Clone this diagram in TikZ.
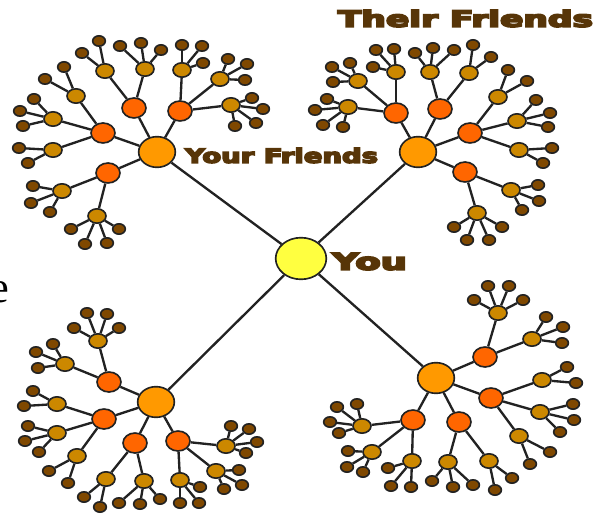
\documentclass[tikz,border=0pt]{standalone}
\usepackage{fontspec}
\usepackage{graphicx}
\usetikzlibrary{shapes.geometric}
\newfontfamily\heavyfont[FakeBold=7]{DejaVu Sans Bold}
\newfontfamily\slidefont{Liberation Serif}
\definecolor{youyellow}{HTML}{FFFF40}
\definecolor{huborange}{HTML}{FF9900}
\definecolor{friendred}{HTML}{FF6600}
\definecolor{fofgold}{HTML}{CC8800}
\definecolor{leafbrown}{HTML}{7F4800}
\definecolor{outline}{HTML}{222222}
\definecolor{tagbrown}{HTML}{573508}

\begin{document}
\begin{tikzpicture}[x=0.03cm, y=-0.03cm,
  ball/.style={ellipse, draw=outline, line width=1.4pt, inner sep=0pt},
  youball/.style={ball, fill=youyellow, minimum width=1.52cm, minimum height=1.25cm},
  hubball/.style={ball, fill=huborange, minimum width=1.1cm, minimum height=0.92cm},
  friendball/.style={ball, fill=friendred, minimum width=0.72cm, minimum height=0.6cm},
  fofball/.style={ball, fill=fofgold, minimum width=0.54cm, minimum height=0.43cm},
  leafball/.style={ball, fill=leafbrown, minimum width=0.38cm, minimum height=0.31cm},
  link/.style={draw=outline, line width=2pt},
  tag/.style={text=tagbrown, inner sep=0pt}]
\useasboundingbox (0,0) rectangle (595,514);

\node (slidee) [anchor=base east, inner sep=0pt] at (9,302) {\slidefont\fontsize{38}{40}\selectfont e};

\node (you) [youball] at (301,258.5) {};
\node (tl) [hubball] at (157,152) {};
\node (tr) [hubball] at (418,152) {};
\node (bl) [hubball] at (156,402) {};
\node (br) [hubball] at (436,378) {};
\draw[link] (you) -- (tl);
\draw[link] (you) -- (tr);
\draw[link] (you) -- (bl);
\draw[link] (you) -- (br);

\foreach \n/\p/\x/\y in {
  tl1/tl/103/133, tl2/tl/134/108, tl3/tl/180/111, tl4/tl/108/173,
  tr1/tr/396/113, tr2/tr/440/109, tr3/tr/470/133, tr4/tr/465/172,
  bl1/bl/109/382, bl2/bl/104/419, bl3/bl/135/443, bl4/bl/178/441,
  br1/br/485/357, br2/br/491/398, br3/br/413/420, br4/br/459/422} {
  \node (\n) [friendball] at (\x,\y) {};
  \draw[link] (\p) -- (\n);
}

\foreach \n/\p/\x/\y in {
  tl1a/tl1/76/96, tl1b/tl1/53/119, tl1c/tl1/53/150, tl2a/tl2/105/71, tl2b/tl2/145/69,
  tl3a/tl3/182/70, tl3b/tl3/220/79, tl3c/tl3/231/105, tl4a/tl4/62/191, tl4b/tl4/97/216,
  tr1a/tr1/358/81, tr1b/tr1/348/107, tr1c/tr1/396/72, tr2a/tr2/430/72, tr2b/tr2/469/73,
  tr3a/tr3/498/97, tr3b/tr3/517/121, tr3c/tr3/519/150, tr4a/tr4/511/190, tr4b/tr4/477/213,
  bl1a/bl1/98/341, bl1b/bl1/65/364, bl2a/bl2/57/404, bl2b/bl2/57/433, bl2c/bl2/77/456,
  bl3a/bl3/106/479, bl3b/bl3/144/481, bl4a/bl4/180/480, bl4b/bl4/216/471, bl4c/bl4/226/446,
  br1a/br1/498/313, br1b/br1/532/339, br2a/br2/542/380, br2b/br2/540/412, br2c/br2/519/436,
  br3a/br3/362/426, br3b/br3/372/452, br3c/br3/412/461, br4a/br4/448/462, br4b/br4/489/461} {
  \node (\n) [fofball] at (\x,\y) {};
  \draw[link] (\p) -- (\n);
}

\foreach \n/\p/\x/\y in {
  tl1a1/tl1a/45/79, tl1a2/tl1a/64/67,
  tl1b1/tl1b/34/99, tl1b2/tl1b/20/111, tl1b3/tl1b/23/126,
  tl1c1/tl1c/19/148, tl1c2/tl1c/28/163,
  tl2a1/tl2a/82/53, tl2a2/tl2a/99/41,
  tl2b1/tl2b/120/46, tl2b2/tl2b/141/43, tl2b3/tl2b/161/50,
  tl3a1/tl3a/182/45, tl3a2/tl3a/202/46, tl3a3/tl3a/203/63,
  tl3b1/tl3b/228/59, tl3b2/tl3b/247/64, tl3b3/tl3b/245/80,
  tl3c1/tl3c/252/98, tl3c2/tl3c/263/109, tl3c3/tl3c/256/123, tl3c4/tl3c/235/126,
  tl4a1/tl4a/33/186, tl4a2/tl4a/31/203, tl4a3/tl4a/50/212,
  tl4b1/tl4b/71/229, tl4b2/tl4b/85/244, tl4b3/tl4b/107/243, tl4b4/tl4b/119/229,
  tr1a1/tr1a/332/67, tr1a2/tr1a/350/63, tr1a3/tr1a/333/82,
  tr1b1/tr1b/327/99, tr1b2/tr1b/315/110, tr1b3/tr1b/323/125, tr1b4/tr1b/343/127,
  tr1c1/tr1c/376/50, tr1c2/tr1c/394/49, tr1c3/tr1c/373/67,
  tr2a1/tr2a/415/53, tr2a2/tr2a/433/48, tr2a3/tr2a/454/50,
  tr2b1/tr2b/473/45, tr2b2/tr2b/491/57,
  tr3a1/tr3a/508/70, tr3a2/tr3a/527/81,
  tr3b1/tr3b/536/100, tr3b2/tr3b/550/113, tr3b3/tr3b/548/127,
  tr3c1/tr3c/552/148, tr3c2/tr3c/543/163,
  tr4a1/tr4a/538/185, tr4a2/tr4a/539/201, tr4a3/tr4a/522/210,
  tr4b1/tr4b/454/227, tr4b2/tr4b/467/240, tr4b3/tr4b/489/240, tr4b4/tr4b/502/227,
  bl1a1/bl1a/74/328, bl1a2/bl1a/87/313, bl1a3/bl1a/107/314, bl1a4/bl1a/119/328,
  bl1b1/bl1b/36/352, bl1b2/bl1b/53/344, bl1b3/bl1b/38/368,
  bl2a1/bl2a/33/391, bl2a2/bl2a/24/406,
  bl2b1/bl2b/28/426, bl2b2/bl2b/25/441, bl2b3/bl2b/39/452,
  bl2c1/bl2c/49/471, bl2c2/bl2c/68/483,
  bl3a1/bl3a/84/497, bl3a2/bl3a/100/507,
  bl3b1/bl3b/119/503, bl3b2/bl3b/140/504, bl3b3/bl3b/160/499,
  bl4a1/bl4a/180/503, bl4a2/bl4a/199/503, bl4a3/bl4a/200/487,
  bl4b1/bl4b/239/470, bl4b2/bl4b/242/485, bl4b3/bl4b/224/489,
  bl4c1/bl4c/231/426, bl4c2/bl4c/249/429, bl4c3/bl4c/257/442, bl4c4/bl4c/246/453,
  br1a1/br1a/474/300, br1a2/br1a/488/286, br1a3/br1a/509/286, br1a4/br1a/523/300,
  br1b1/br1b/546/317, br1b2/br1b/563/327, br1b3/br1b/562/343,
  br2a1/br2a/567/367, br2a2/br2a/576/383,
  br2b1/br2b/573/404, br2b2/br2b/574/420, br2b3/br2b/560/432,
  br2c1/br2c/550/452, br2c2/br2c/530/464,
  br3a1/br3a/337/407, br3a2/br3a/357/404, br3a3/br3a/330/422, br3a4/br3a/339/433,
  br3b1/br3b/348/451, br3b2/br3b/347/467, br3b3/br3b/363/472,
  br3c1/br3c/388/468, br3c2/br3c/391/486, br3c3/br3c/411/487,
  br4a1/br4a/432/481, br4a2/br4a/453/487, br4a3/br4a/473/485,
  br4b1/br4b/512/478, br4b2/br4b/495/490} {
  \node (\n) [leafball] at (\x,\y) {};
  \draw[link] (\p) -- (\n);
}

\node (youtag) [tag] at (369.5,261.5) {\resizebox{2.25cm}{0.51cm}{\heavyfont You}};
\node (yourfriends) [tag] at (281.5,155.5) {\resizebox{5.79cm}{0.45cm}{\heavyfont Your Friends}};
\node (theirfriends) [tag] at (465.5,18.5) {\resizebox{7.65cm}{0.51cm}{\heavyfont Their Friends}};
\end{tikzpicture}
\end{document}
